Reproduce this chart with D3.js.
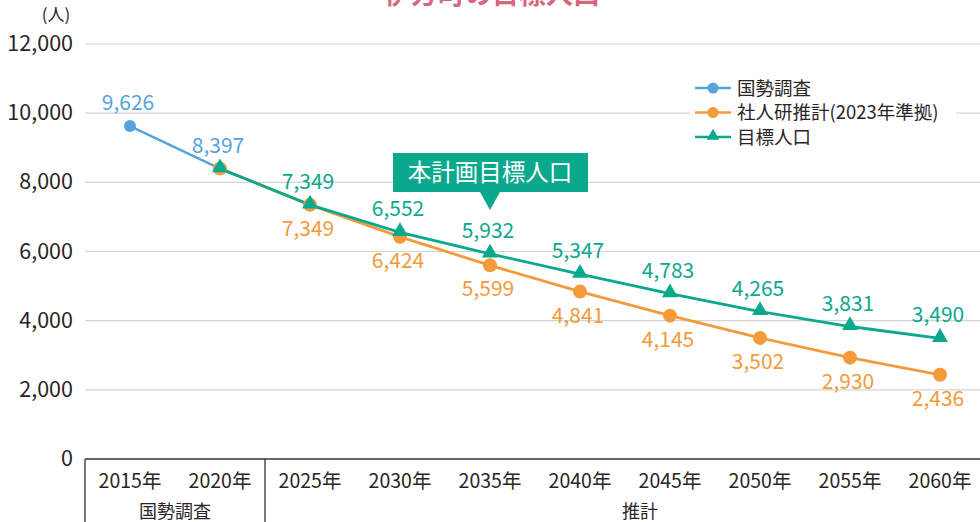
<!DOCTYPE html>
<html>
<head>
<meta charset="utf-8">
<script src="https://cdn.jsdelivr.net/npm/d3@7"></script>
<style>
  html, body { margin: 0; padding: 0; background: #fff; overflow: hidden; }
  svg { display: block; font-family: "Noto Sans CJK JP", "Noto Sans", sans-serif; }
</style>
</head>
<body>
<div id="viz"></div>
<script>
const years = ['2015', '2020', '2025', '2030', '2035', '2040', '2045', '2050', '2055', '2060'];
const censusYears = ['2015', '2020'];
const censusValues = [9626, 8397];
const ipssYears = ['2020', '2025', '2030', '2035', '2040', '2045', '2050', '2055', '2060'];
const ipssValues = [8397, 7349, 6424, 5599, 4841, 4145, 3502, 2930, 2436];
const targetValues = [8397, 7349, 6552, 5932, 5347, 4783, 4265, 3831, 3490];
const yTicks = [0, 2000, 4000, 6000, 8000, 10000, 12000];
const legendLabels = ['国勢調査', '社人研推計(2023年準拠)', '目標人口'];

const width = 980;
const height = 522;
const BLUE = '#55a5dc';
const ORANGE = '#f39a3b';
const GREEN = '#0aa98d';
const TEXT = '#2b2424';

const x = d3.scaleBand().domain(years).range([85, 985]);
const y = d3.scaleLinear().domain([0, 12000]).range([459, 44]);
const cx = d => x(d) + x.bandwidth() / 2;
const fmt = d3.format(',');

const svg = d3.select('#viz')
  .append('svg')
  .attr('width', width)
  .attr('height', height);

// title (cut off at the top edge like the source)
svg.append('text')
  .attr('x', 492)
  .attr('y', 4)
  .attr('text-anchor', 'middle')
  .attr('font-size', 27)
  .attr('font-weight', 'bold')
  .attr('fill', '#d5677f')
  .text('伊方町の目標人口');

// grid lines
svg.append('g')
  .selectAll('line')
  .data(yTicks.filter(d => d > 0))
  .enter()
  .append('line')
  .attr('x1', 85)
  .attr('x2', width)
  .attr('y1', d => y(d))
  .attr('y2', d => y(d))
  .attr('stroke', '#d4d4d4')
  .attr('stroke-width', 1.2);

// y tick labels
svg.append('g')
  .selectAll('text')
  .data(yTicks)
  .enter()
  .append('text')
  .attr('x', 73)
  .attr('y', d => y(d) + 7)
  .attr('text-anchor', 'end')
  .attr('font-size', 21.5)
  .attr('fill', TEXT)
  .text(d => fmt(d));

svg.append('text')
  .attr('x', 56)
  .attr('y', 21)
  .attr('text-anchor', 'middle')
  .attr('font-size', 17)
  .attr('fill', TEXT)
  .text('(人)');

// category table under the axis
const table = svg.append('g').attr('stroke', '#333').attr('stroke-width', 1.3);
table.append('line').attr('x1', 85).attr('x2', width).attr('y1', y(0)).attr('y2', y(0));
[x('2015'), x('2025')].forEach(px => {
  table.append('line').attr('x1', px).attr('x2', px).attr('y1', y(0)).attr('y2', height);
});

svg.append('g')
  .selectAll('text')
  .data(years)
  .enter()
  .append('text')
  .attr('x', d => cx(d))
  .attr('y', 488)
  .attr('text-anchor', 'middle')
  .attr('font-size', 19.5)
  .attr('fill', TEXT)
  .text(d => d + '年');

svg.append('text')
  .attr('x', (x('2015') + x('2025')) / 2)
  .attr('y', 518)
  .attr('text-anchor', 'middle')
  .attr('font-size', 18)
  .attr('fill', TEXT)
  .text('国勢調査');

svg.append('text')
  .attr('x', (cx('2025') + cx('2060')) / 2 + 15)
  .attr('y', 518)
  .attr('text-anchor', 'middle')
  .attr('font-size', 18)
  .attr('fill', TEXT)
  .text('推計');

// lines
const census = censusYears.map((d, i) => ({ year: d, value: censusValues[i] }));
const ipss = ipssYears.map((d, i) => ({ year: d, value: ipssValues[i] }));
const target = ipssYears.map((d, i) => ({ year: d, value: targetValues[i] }));

const line = d3.line().x(d => cx(d.year)).y(d => y(d.value));

svg.append('path').datum(census).attr('d', line)
  .attr('fill', 'none').attr('stroke', BLUE).attr('stroke-width', 2.5);
svg.append('path').datum(ipss).attr('d', line)
  .attr('fill', 'none').attr('stroke', ORANGE).attr('stroke-width', 2.8);
svg.append('path').datum(target).attr('d', line)
  .attr('fill', 'none').attr('stroke', GREEN).attr('stroke-width', 2.8);

svg.append('g').selectAll('circle').data(census.slice(0, 1)).enter()
  .append('circle')
  .attr('cx', d => cx(d.year)).attr('cy', d => y(d.value)).attr('r', 6)
  .attr('fill', BLUE);

svg.append('g').selectAll('circle').data(ipss).enter()
  .append('circle')
  .attr('cx', d => cx(d.year)).attr('cy', d => y(d.value)).attr('r', 7)
  .attr('fill', ORANGE);

const tri = d3.symbol().type(d3.symbolTriangle).size(110);
svg.append('g').selectAll('path').data(target).enter()
  .append('path')
  .attr('d', tri)
  .attr('transform', d => `translate(${cx(d.year)},${y(d.value) - 1})`)
  .attr('fill', GREEN);

// data labels
const labelSize = 21;
svg.append('g').selectAll('text').data(census).enter()
  .append('text')
  .attr('x', d => cx(d.year) - 2)
  .attr('y', d => y(d.value) - 16)
  .attr('text-anchor', 'middle')
  .attr('font-size', labelSize)
  .attr('fill', BLUE)
  .text(d => fmt(d.value));

svg.append('g').selectAll('text').data(target.slice(1)).enter()
  .append('text')
  .attr('x', d => cx(d.year) - 2)
  .attr('y', d => y(d.value) - 16)
  .attr('text-anchor', 'middle')
  .attr('font-size', labelSize)
  .attr('fill', GREEN)
  .text(d => fmt(d.value));

svg.append('g').selectAll('text').data(ipss.slice(1)).enter()
  .append('text')
  .attr('x', d => cx(d.year) - 2)
  .attr('y', d => y(d.value) + 31)
  .attr('text-anchor', 'middle')
  .attr('font-size', labelSize)
  .attr('fill', ORANGE)
  .text(d => fmt(d.value));

// callout
const callout = svg.append('g');
callout.append('path')
  .attr('d', 'M393,153 H588 V192 H500 L490,210 L480,192 H393 Z')
  .attr('fill', GREEN);
callout.append('text')
  .attr('x', 490)
  .attr('y', 181)
  .attr('text-anchor', 'middle')
  .attr('font-size', 23.5)
  .attr('fill', '#fff')
  .text('本計画目標人口');

// legend
const legend = svg.append('g');
legend.append('rect')
  .attr('x', 690).attr('y', 76).attr('width', 266).attr('height', 74)
  .attr('fill', '#fff');
const legendColors = [BLUE, ORANGE, GREEN];
legendLabels.forEach((lab, i) => {
  const ly = 88 + i * 24.5;
  legend.append('line')
    .attr('x1', 695).attr('x2', 731).attr('y1', ly).attr('y2', ly)
    .attr('stroke', legendColors[i]).attr('stroke-width', 2.5);
  if (i < 2) {
    legend.append('circle').attr('cx', 713).attr('cy', ly).attr('r', 5.5)
      .attr('fill', legendColors[i]);
  } else {
    legend.append('path')
      .attr('d', d3.symbol().type(d3.symbolTriangle).size(70))
      .attr('transform', `translate(713,${ly - 1})`)
      .attr('fill', legendColors[i]);
  }
  legend.append('text')
    .attr('x', 737).attr('y', ly + 6.5)
    .attr('font-size', 18.5)
    .attr('fill', TEXT)
    .text(lab);
});
</script>
</body>
</html>
